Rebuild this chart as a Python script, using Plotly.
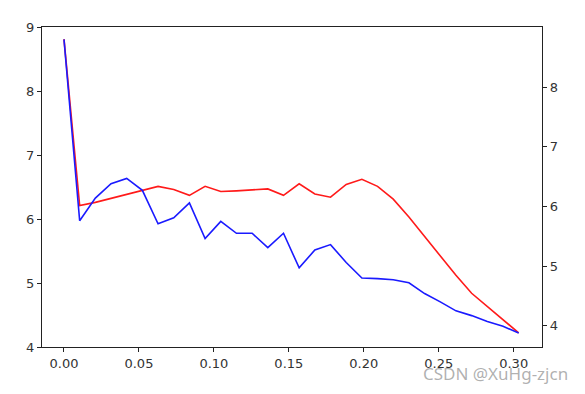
import numpy as np
import plotly.graph_objects as go

x_step = 0.01046
n_points = 30
x_vals = [round(i * x_step, 5) for i in range(n_points)]

red_vals = [8.81, 6.21, 6.26, 6.32, 6.38, 6.44, 6.51, 6.46, 6.37, 6.51,
            6.43, 6.44, 6.45, 6.47, 6.37, 6.55, 6.39, 6.34, 6.54, 6.62,
            6.51, 6.31, 6.03, 5.73, 5.43, 5.12, 4.84, 4.63, 4.43, 4.22]

blue_vals = [8.80, 5.76, 6.14, 6.38, 6.47, 6.27, 5.71, 5.81, 6.06, 5.46,
             5.75, 5.55, 5.55, 5.31, 5.55, 4.97, 5.27, 5.36, 5.06, 4.80,
             4.79, 4.77, 4.72, 4.54, 4.40, 4.25, 4.17, 4.07, 3.99, 3.88]

x_ticks = [0.0, 0.05, 0.10, 0.15, 0.20, 0.25, 0.30]
x_tick_text = ["0.00", "0.05", "0.10", "0.15", "0.20", "0.25", "0.30"]
left_ticks = [4, 5, 6, 7, 8, 9]
right_ticks = [4, 5, 6, 7, 8]

fig = go.Figure()
fig.add_trace(go.Scatter(x=x_vals, y=red_vals, mode="lines",
                         line=dict(color="#ff1a1a", width=1.6),
                         yaxis="y", showlegend=False))
fig.add_trace(go.Scatter(x=x_vals, y=blue_vals, mode="lines",
                         line=dict(color="#1a1aff", width=1.6),
                         yaxis="y2", showlegend=False))

font = dict(family="DejaVu Sans", size=13, color="#333333")
axis_common = dict(showgrid=False, zeroline=False, showline=True,
                   linecolor="#222222", linewidth=1.2, ticks="outside",
                   ticklen=4, tickwidth=1.1, tickcolor="#222222",
                   tickfont=font)

fig.update_layout(
    width=577, height=386,
    margin=dict(l=34, r=43, t=13, b=47),
    plot_bgcolor="white", paper_bgcolor="white",
    xaxis=dict(range=[-0.01467, 0.3189], tickvals=x_ticks,
               ticktext=x_tick_text, mirror=True, **axis_common),
    yaxis=dict(range=[4, 9], tickvals=left_ticks, mirror=True, **axis_common),
    yaxis2=dict(range=[3.644, 9.007], tickvals=right_ticks, overlaying="y",
                side="right", **axis_common),
    annotations=[dict(text="CSDN @XuHg-zjcn", xref="paper", yref="paper",
                      x=1.0, y=0.0, xanchor="right", yanchor="middle",
                      xshift=28, yshift=-26, showarrow=False,
                      font=dict(family="Noto Sans", size=17,
                                color="rgba(110,110,110,0.55)"))],
)

fig.write_html("out.html")
